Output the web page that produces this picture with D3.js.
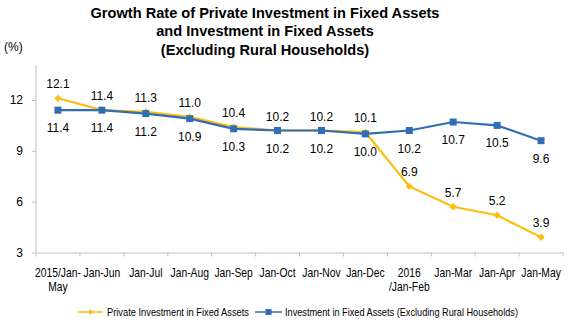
<!DOCTYPE html>
<html><head><meta charset="utf-8">
<script src="https://cdn.jsdelivr.net/npm/d3@7"></script>
<style>body{margin:0;background:#fff}svg{display:block;font-family:Arial,"Liberation Sans",sans-serif}</style>
</head><body><svg id="c" width="575" height="322"></svg>
<script>
const categories = ["2015/Jan-May","Jan-Jun","Jan-Jul","Jan-Aug","Jan-Sep","Jan-Oct","Jan-Nov","Jan-Dec","2016/Jan-Feb","Jan-Mar","Jan-Apr","Jan-May"];
const categoryLines = [["2015/Jan-","May"],["Jan-Jun"],["Jan-Jul"],["Jan-Aug"],["Jan-Sep"],["Jan-Oct"],["Jan-Nov"],["Jan-Dec"],["2016","/Jan-Feb"],["Jan-Mar"],["Jan-Apr"],["Jan-May"]];
const privateInv = [12.1,11.4,11.3,11.0,10.4,10.2,10.2,10.1,6.9,5.7,5.2,3.9];
const totalInv = [11.4,11.4,11.2,10.9,10.3,10.2,10.2,10.0,10.2,10.7,10.5,9.6];
const yTicks = [3,6,9,12];
const seriesNames = ["Private Investment in Fixed Assets","Investment in Fixed Assets (Excluding Rural Households)"];
const titleLines = ["Growth Rate of Private Investment in Fixed Assets","and Investment in Fixed Assets","(Excluding Rural Households)"];

const svg = d3.select("#c");
const orange = "#FDBE10", blue = "#2F6DB5", axisCol = "#BFBFBF";
const x = d3.scaleBand().domain(categories).range([36,563]).padding(0);
const y = d3.scaleLinear().domain([3,12]).range([252.5,100]);
const cx = d => x(d) + x.bandwidth()/2;
const sx = 0.86;

// title
svg.append("g").selectAll("text").data(titleLines).join("text")
  .attr("x",265).attr("y",(d,i)=>18+i*18.3).attr("text-anchor","middle")
  .attr("font-size",14.6).attr("font-weight","bold").attr("fill","#000").text(d=>d);
svg.append("text").attr("x",4).attr("y",51).attr("font-size",12).text("(%)");

// y axis
const ya = svg.append("g").attr("transform","translate(36,0)")
  .call(d3.axisLeft(y).tickValues(yTicks).tickSize(4).tickPadding(9));
ya.select(".domain").attr("stroke",axisCol).attr("d",`M0,${y(3)}V65`);
ya.selectAll(".tick line").attr("stroke",axisCol);
ya.selectAll(".tick text").attr("font-size",12).attr("fill","#000").attr("font-family","Arial");

// x axis
const xa = svg.append("g").attr("transform",`translate(0,${y(3)})`)
  .call(d3.axisBottom(x).tickSize(0).tickFormat(""));
xa.select(".domain").attr("stroke",axisCol);
xa.selectAll(".tick line").remove();
const bounds = categories.map(c=>x(c)).concat([x.range()[1]]);
xa.selectAll("line.sep").data(bounds).join("line").attr("class","sep")
  .attr("x1",d=>d).attr("x2",d=>d).attr("y1",0).attr("y2",4).attr("stroke",axisCol);
const xl = svg.append("g").selectAll("text").data(categories).join("text")
  .attr("transform",d=>`translate(${cx(d)},277) scale(${sx},1)`).attr("text-anchor","middle").attr("font-size",12).attr("fill","#000");
xl.each(function(d,i){
  const t=d3.select(this);
  categoryLines[i].forEach((s,j)=>t.append("tspan").attr("x",0).attr("dy",j?14:0).text(s));
});

// lines
const line = vals => d3.line().x((d,i)=>cx(categories[i])).y(d=>y(d))(vals);
svg.append("path").attr("d",line(privateInv)).attr("fill","none").attr("stroke",orange).attr("stroke-width",2.2);
svg.append("path").attr("d",line(totalInv)).attr("fill","none").attr("stroke",blue).attr("stroke-width",2.2);

svg.append("g").selectAll("path").data(privateInv).join("path")
  .attr("d",d3.symbol(d3.symbolDiamond2,34)())
  .attr("transform",(d,i)=>`translate(${cx(categories[i])},${y(d)})`).attr("fill",orange);
svg.append("g").selectAll("rect").data(totalInv).join("rect")
  .attr("x",(d,i)=>cx(categories[i])-3.5).attr("y",d=>y(d)-3.5).attr("width",7).attr("height",7).attr("fill",blue);

// labels
svg.append("g").selectAll("text").data(privateInv).join("text")
  .attr("x",(d,i)=>cx(categories[i])).attr("y",d=>y(d)-10).attr("text-anchor","middle")
  .attr("font-size",12).attr("fill","#000").text(d=>d.toFixed(1));
svg.append("g").selectAll("text").data(totalInv).join("text")
  .attr("x",(d,i)=>cx(categories[i])).attr("y",d=>y(d)+22).attr("text-anchor","middle")
  .attr("font-size",12).attr("fill","#000").text(d=>d.toFixed(1));

// legend
const lg = svg.append("g");
const items = [{name:seriesNames[0],c:orange,x0:78,x1:103,tx:107,tw:142,t:"d"},{name:seriesNames[1],c:blue,x0:255,x1:282,tx:285,tw:233,t:"s"}];
items.forEach(it=>{
  const m=(it.x0+it.x1)/2;
  lg.append("line").attr("x1",it.x0).attr("x2",it.x1).attr("y1",312).attr("y2",312).attr("stroke",it.c).attr("stroke-width",1.5);
  if(it.t==="d") lg.append("path").attr("d",d3.symbol(d3.symbolDiamond2,18)()).attr("transform",`translate(${m},312)`).attr("fill",it.c);
  else lg.append("rect").attr("x",m-3).attr("y",309).attr("width",6).attr("height",6).attr("fill",it.c);
  lg.append("text").attr("x",it.tx).attr("y",316).attr("font-size",11).attr("fill","#000")
    .attr("textLength",it.tw).attr("lengthAdjust","spacingAndGlyphs").text(it.name);
});
</script></body></html>
